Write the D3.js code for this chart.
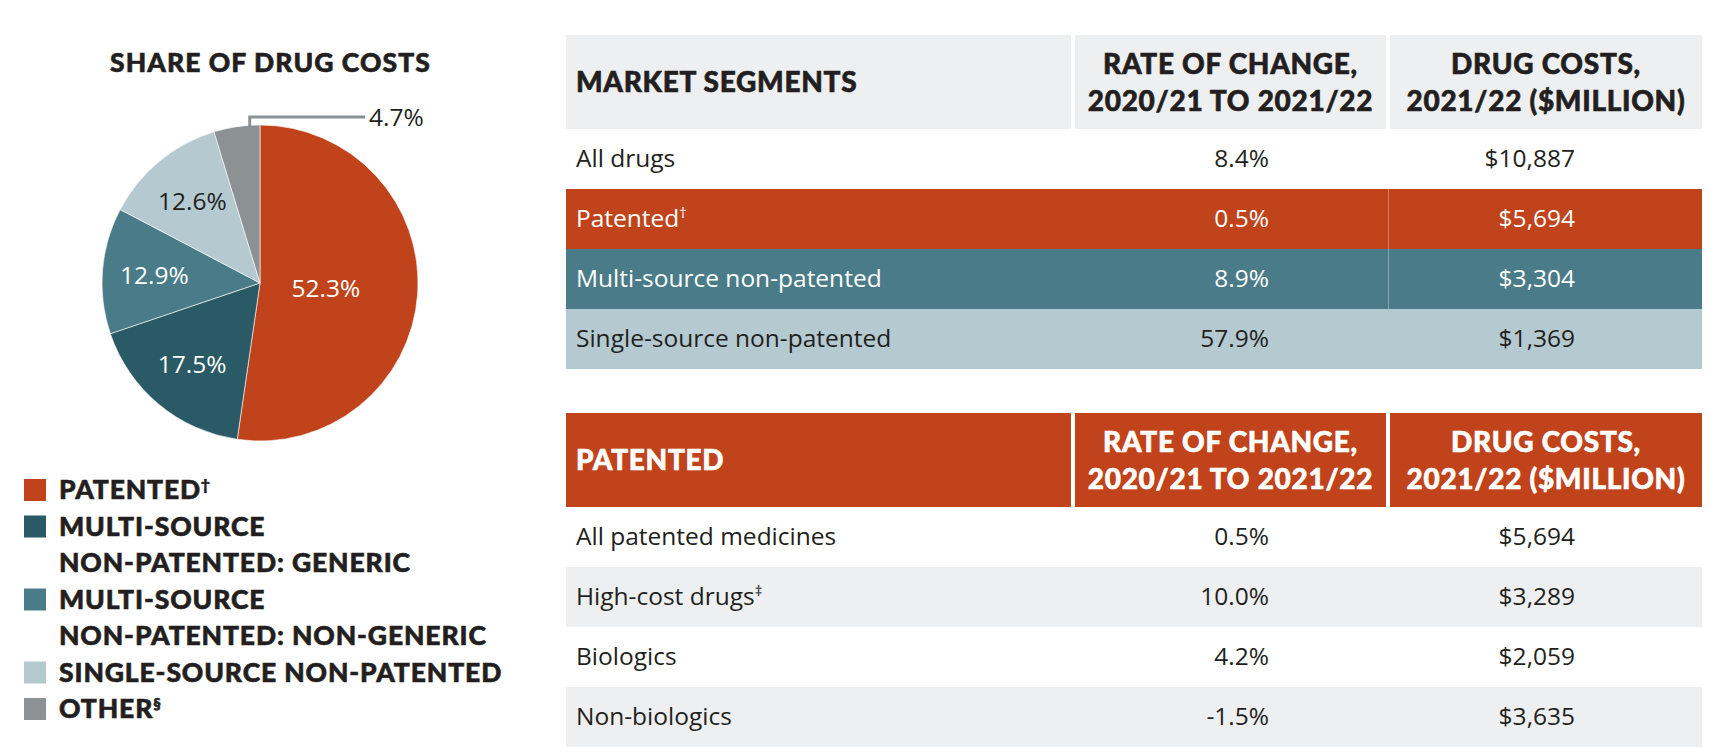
<!DOCTYPE html>
<html>
<head>
<meta charset="utf-8">
<script src="https://cdn.jsdelivr.net/npm/d3@7"></script>
<style>
  body { margin: 0; background: #fff; }
  svg { display: block; }
</style>
</head>
<body>
<div id="chart"></div>
<script>
// pie data
const pieNames = ['PATENTED†', 'MULTI-SOURCE\nNON-PATENTED: GENERIC', 'MULTI-SOURCE\nNON-PATENTED: NON-GENERIC', 'SINGLE-SOURCE NON-PATENTED', 'OTHER§']
const pieShares = [52.3, 17.5, 12.9, 12.6, 4.7]
const pieColors = ['#c1431b', '#2a5a65', '#4a7b88', '#b4c9d0', '#8c9194']

// market segments table
const segHeaders = ['MARKET SEGMENTS', 'RATE OF CHANGE,\n2020/21 TO 2021/22', 'DRUG COSTS,\n2021/22 ($MILLION)']
const segNames = ['All drugs', 'Patented†', 'Multi-source non-patented', 'Single-source non-patented']
const segRates = [8.4, 0.5, 8.9, 57.9]
const segCosts = [10887, 5694, 3304, 1369]

// patented table
const patHeaders = ['PATENTED', 'RATE OF CHANGE,\n2020/21 TO 2021/22', 'DRUG COSTS,\n2021/22 ($MILLION)']
const patNames = ['All patented medicines', 'High-cost drugs‡', 'Biologics', 'Non-biologics']
const patRates = [0.5, 10.0, 4.2, -1.5]
const patCosts = [5694, 3289, 2059, 3635]

const width = 1721
const height = 756
const HEAVY = "'Lato', 'Roboto', sans-serif"
const LIGHT = "'Open Sans', 'Noto Sans', sans-serif"
const DARK = '#231f20'
const GREY_BG = '#eeeff1'

const locale = d3.formatLocale({ decimal: '.', thousands: ',', grouping: [3], currency: ['$', ''], minus: '-' })
const fmtRate = v => locale.format('.1f')(v) + '%'
const fmtCost = locale.format('$,')

const svg = d3
  .select('#chart')
  .append('svg')
  .attr('width', width)
  .attr('height', height)

// write text, turning a trailing †‡§ into a superscript
const addText = (sel, str, supSize) => {
  const last = str.slice(-1)
  if ('†‡§'.includes(last)) {
    sel.append('tspan').text(str.slice(0, -1))
    sel
      .append('tspan')
      .text(last)
      .attr('font-size', supSize)
      .attr('dy', '-0.6em')
  } else {
    sel.text(str)
  }
}

// heavy display type, a light stroke thickens it a little
const heavy = (sel, size, spacing, color) =>
  sel
    .attr('font-family', HEAVY)
    .attr('font-weight', 900)
    .attr('font-size', size)
    .attr('letter-spacing', spacing)
    .attr('fill', color)
    .attr('stroke', color)
    .attr('stroke-width', 0.6)

// ---- pie ----
const cx = 260
const cy = 283
const radius = 158

svg
  .append('text')
  .attr('x', 110)
  .attr('y', 72)
  .call(heavy, 26.5, '0.04em', DARK)
  .text('SHARE OF DRUG COSTS')

const pie = d3.pie().sort(null).value(d => d)
const arcs = pie(pieShares)
const arc = d3.arc().innerRadius(0).outerRadius(radius)

const pieG = svg.append('g').attr('transform', `translate(${cx},${cy})`)

pieG
  .selectAll('path')
  .data(arcs)
  .join('path')
  .attr('d', arc)
  .attr('fill', (d, i) => pieColors[i])
  .attr('stroke', '#fff')
  .attr('stroke-width', 0.6)

const labelR = d => (d.data > 50 ? 66 : 106)
const inside = arcs.filter(d => d.data > 5)

pieG
  .selectAll('text.pct')
  .data(inside)
  .join('text')
  .attr('class', 'pct')
  .attr('transform', d => {
    const a = (d.startAngle + d.endAngle) / 2
    const r = labelR(d)
    return `translate(${Math.sin(a) * r},${-Math.cos(a) * r})`
  })
  .attr('dy', '0.36em')
  .attr('text-anchor', 'middle')
  .attr('font-family', LIGHT)
  .attr('font-size', 24.5)
  .attr('fill', (d, i) => (i === 3 ? DARK : '#fff'))
  .text(d => d.data + '%')

// callout for the small slice
const small = arcs.filter(d => d.data <= 5)
small.forEach(d => {
  const a = d.startAngle + 0.78 * (d.endAngle - d.startAngle)
  const x0 = Math.sin(a) * radius
  const y0 = -Math.cos(a) * radius
  const yTop = -radius - 8
  const x1 = 105
  pieG
    .append('path')
    .attr('d', `M${x0},${y0 + 1}V${yTop}H${x1}`)
    .attr('fill', 'none')
    .attr('stroke', '#8c9194')
    .attr('stroke-width', 3)
  pieG
    .append('text')
    .attr('x', x1 + 4)
    .attr('y', yTop)
    .attr('dy', '0.36em')
    .attr('font-family', LIGHT)
    .attr('font-size', 24.5)
    .attr('fill', DARK)
    .text(d.data + '%')
})

// legend
const legendLines = []
pieNames.forEach((name, i) => {
  name.split('\n').forEach((line, j) => legendLines.push({ line, i, first: j === 0 }))
})
const legY = d3
  .scalePoint()
  .domain(d3.range(legendLines.length))
  .range([499, 718])

const leg = svg
  .append('g')
  .selectAll('g')
  .data(legendLines)
  .join('g')
  .attr('transform', (d, k) => `translate(0,${legY(k)})`)

leg
  .filter(d => d.first)
  .append('rect')
  .attr('x', 24)
  .attr('y', -20)
  .attr('width', 22)
  .attr('height', 22)
  .attr('fill', d => pieColors[d.i])

leg
  .append('text')
  .attr('x', 59)
  .call(heavy, 26.5, '0.033em', DARK)
  .each(function(d) {
    addText(d3.select(this), d.line, 15)
  })

// ---- tables ----
const colLeft = [566, 1075, 1390]
const colRight = [1071, 1386, 1702]
const rateRight = 1269
const costRight = 1575

const drawTable = opts => {
  const { top, headers, names, rates, costs, headBg, headFg, rowBg, rowFg, divider } = opts
  const g = svg.append('g')
  const headBottom = top + 94

  // header cells
  headers.forEach((h, c) => {
    g.append('rect')
      .attr('x', colLeft[c])
      .attr('y', top)
      .attr('width', colRight[c] - colLeft[c])
      .attr('height', headBottom - top)
      .attr('fill', headBg)
    const lines = h.split('\n')
    const t = g
      .append('text')
      .call(heavy, 28, '0.025em', headFg)
      .attr('text-anchor', c === 0 ? 'start' : 'middle')
    lines.forEach((l, k) => {
      t.append('tspan')
        .attr('x', c === 0 ? colLeft[0] + 10 : (colLeft[c] + colRight[c]) / 2)
        .attr('y', (top + headBottom) / 2 + 10 + (k - (lines.length - 1) / 2) * 37)
        .text(l)
    })
  })

  const y = d3
    .scaleBand()
    .domain(d3.range(names.length))
    .range([headBottom, headBottom + 60 * names.length])

  const rows = g
    .selectAll('g.row')
    .data(names)
    .join('g')
    .attr('class', 'row')
    .attr('transform', (d, i) => `translate(0,${y(i)})`)

  rows
    .append('rect')
    .attr('x', colLeft[0])
    .attr('width', colRight[2] - colLeft[0])
    .attr('height', y.bandwidth())
    .attr('fill', (d, i) => rowBg[i])

  rows
    .filter((d, i) => divider[i])
    .append('line')
    .attr('x1', 1388.5)
    .attr('x2', 1388.5)
    .attr('y1', 0)
    .attr('y2', y.bandwidth())
    .attr('stroke', 'rgba(255,255,255,0.3)')
    .attr('stroke-width', 1)

  const cellText = sel =>
    sel
      .append('text')
      .attr('y', y.bandwidth() / 2)
      .attr('dy', '0.33em')
      .attr('font-family', LIGHT)
      .attr('font-size', 24.5)
      .attr('fill', (d, i) => rowFg[i])

  cellText(rows)
    .attr('x', colLeft[0] + 10)
    .each(function(d) {
      addText(d3.select(this), d, 15)
    })

  cellText(rows)
    .attr('x', rateRight)
    .attr('text-anchor', 'end')
    .text((d, i) => fmtRate(rates[i]))

  cellText(rows)
    .attr('x', costRight)
    .attr('text-anchor', 'end')
    .text((d, i) => fmtCost(costs[i]))
}

drawTable({
  top: 35,
  headers: segHeaders,
  names: segNames,
  rates: segRates,
  costs: segCosts,
  headBg: GREY_BG,
  headFg: DARK,
  rowBg: ['#ffffff', '#c1431b', '#4a7b88', '#b4c9d0'],
  rowFg: [DARK, '#fff', '#fff', DARK],
  divider: [false, true, true, false]
})

drawTable({
  top: 413,
  headers: patHeaders,
  names: patNames,
  rates: patRates,
  costs: patCosts,
  headBg: '#c1431b',
  headFg: '#fff',
  rowBg: ['#ffffff', GREY_BG, '#ffffff', GREY_BG],
  rowFg: [DARK, DARK, DARK, DARK],
  divider: [false, false, false, false]
})
</script>
</body>
</html>
